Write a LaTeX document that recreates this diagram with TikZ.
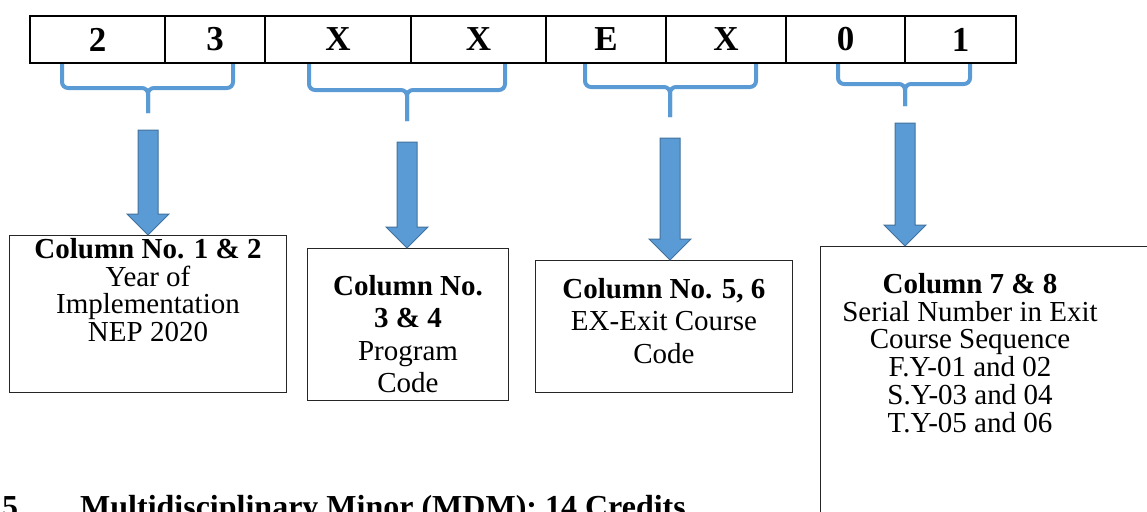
\documentclass[tikz,border=0pt]{standalone}
\usepackage{fontspec}
\setmainfont{Liberation Serif}
\usepackage{tikz}
\definecolor{BraceBlue}{RGB}{91,155,213}
\definecolor{ArrowEdge}{RGB}{65,113,156}
\usetikzlibrary{calc}

\begin{document}
\begin{tikzpicture}[x=1pt,y=-1pt,
cell/.style={draw=black,line width=2pt,minimum height=47pt,inner sep=0pt,font=\fontsize{35}{40}\selectfont\bfseries},
colbox/.style={draw=black!85,line width=1pt,inner sep=0pt,anchor=north west},
coltext/.style={align=center,inner sep=0pt,anchor=north,font=\fontsize{29}{27.8}\selectfont},
widetext/.style={coltext,font=\fontsize{29}{32.5}\selectfont},
brace/.style={BraceBlue,line width=4pt,rounded corners=6pt},
blockarrow/.style={fill=BraceBlue,draw=ArrowEdge,line width=1pt,line join=miter}]
\useasboundingbox (0,0) rectangle (1147,511);
\clip (0,0) rectangle (1147,511);

%%code strip
\foreach \i/\a/\b/\t in {1/30/165/2, 2/165/265/3, 3/265/411/X, 4/411/546/X,
5/546/666/E, 6/666/786/X, 7/786/905/0, 8/905/1016/1}
{\node[cell,minimum width={(\b-\a)*1pt}] (c\i) at ({(\a+\b)/2},39.5) {\t};
}

%%braces
\foreach \l/\r/\m/\h/\t/\n in {62/233/148/88/113/1, 309/505/407/90/121/2,
585/756/670/87/117/3, 838/970/905/84/106/4}
{
\draw[brace] (\l,64) -- (\l,\h) -- (\m,\h) -- (\m,\t);
\draw[brace] (\r,64) -- (\r,\h) -- (\m,\h) -- (\m,\t);
\coordinate (b\n) at (\m,\t);
}

%%boxes
\node[colbox,minimum width=277pt,minimum height=157pt] (col12) at (9,235) {};
\node[colbox,minimum width=201pt,minimum height=152pt] (col34) at (307,248) {};
\node[colbox,minimum width=257pt,minimum height=132pt] (col56) at (535,260) {};
\node[colbox,minimum width=360pt,minimum height=300pt] (col78) at (820,246) {};

\node[coltext] (t12) at ($(col12.north)+(0,3)$) {\textbf{Column No. 1 \& 2}\\Year of\\Implementation\\NEP 2020};
\node[widetext] (t34) at ($(col34.north)+(0,27)$) {\textbf{Column No.}\\\textbf{3 \& 4}\\Program\\Code};
\node[widetext] (t56) at ($(col56.north)+(0,18)$) {\textbf{Column No. 5, 6}\\EX-Exit Course\\Code};
\node[coltext] (t78) at (970,273) {\textbf{Column 7 \& 8}\\Serial Number in Exit\\Course Sequence\\F.Y-01 and 02\\S.Y-03 and 04\\T.Y-05 and 06};

%%arrows
\foreach \n/\bx/\len in {1/col12/105, 2/col34/106, 3/col56/122, 4/col78/123}
{
\coordinate (tip\n) at (b\n |- \bx.north);
\draw[blockarrow] (tip\n) -- ++(-21,-21) -- ++(11,0) -- ++(0,{-(\len-21)}) -- ++(20,0)
-- ++(0,{\len-21}) -- ++(11,0) -- cycle;
}

%%heading below
\node[anchor=base west,inner sep=0pt,font=\fontsize{32}{36}\selectfont\bfseries] (secno) at (2,517) {5};
\node[anchor=base west,inner sep=0pt,font=\fontsize{32}{36}\selectfont\bfseries] (sechead) at (80,517) {Multidisciplinary Minor (MDM): 14 Credits};
\end{tikzpicture}
\end{document}
